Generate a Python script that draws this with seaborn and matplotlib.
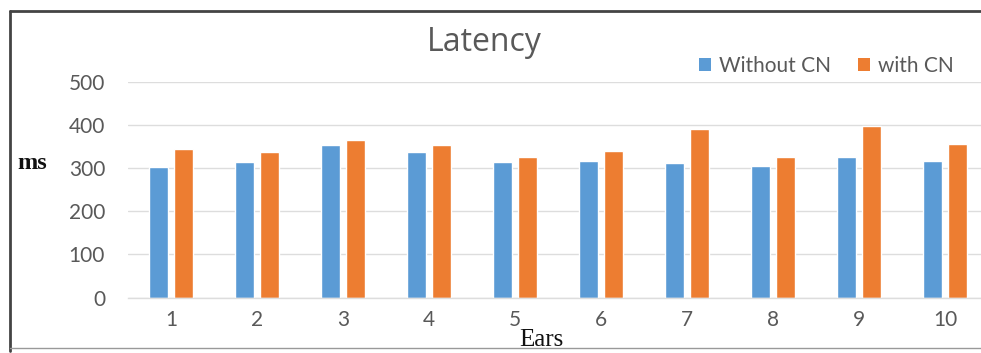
import matplotlib
matplotlib.use("Agg")
import matplotlib.pyplot as plt
from matplotlib.lines import Line2D
from matplotlib.patches import Patch
import seaborn as sns
import pandas as pd

# Latency per ear (ms)
ears = ["1", "2", "3", "4", "5", "6", "7", "8", "9", "10"]
without_cn = [303, 314, 353, 336, 314, 317, 311, 304, 325, 317]
with_cn = [344, 336, 365, 353, 325, 340, 391, 325, 398, 355]
series_names = ["Without CN", "with CN"]
y_ticks = [0, 100, 200, 300, 400, 500]

colors = ["#5B9BD5", "#ED7D31"]
text_gray = "#595959"
grid_gray = "#DDDDDD"
sans = ["Lato", "DejaVu Sans"]
serif = "Liberation Serif"

df = pd.DataFrame({
    "Ears": ears * 2,
    "ms": without_cn + with_cn,
    "series": [series_names[0]] * len(ears) + [series_names[1]] * len(ears),
})

sns.set_theme(style="white")
plt.rcParams["font.family"] = sans

fig = plt.figure(figsize=(9.81, 3.53), dpi=100)
fig.patch.set_linewidth(0)
ax = fig.add_axes([0.1305, 0.157, 0.877, 0.612])

sns.barplot(data=df, x="Ears", y="ms", hue="series", order=ears,
            hue_order=series_names, palette=colors, width=0.58, gap=0.24,
            saturation=1, errorbar=None, ax=ax, legend=False)

ax.set_ylim(0, 500)
ax.set_yticks(y_ticks)
ax.set_yticklabels([str(v) for v in y_ticks])
ax.yaxis.grid(True, color=grid_gray, linewidth=1.0)
ax.xaxis.grid(False)
ax.set_axisbelow(True)
for side in ["top", "right", "left"]:
    ax.spines[side].set_visible(False)
ax.spines["bottom"].set_color(grid_gray)
ax.spines["bottom"].set_linewidth(1.0)
ax.tick_params(axis="both", length=0, labelsize=15, labelcolor=text_gray)
ax.tick_params(axis="y", pad=16.5)
ax.tick_params(axis="x", pad=9)

ax.set_xlabel("")
ax.set_ylabel("")
fig.text(0.018, 0.538, "ms", family=serif, fontsize=17.5, fontweight="bold",
         color="#111111", ha="left", va="center")
fig.text(0.552, 0.037, "Ears", family=serif, fontsize=18, color="#111111",
         ha="center", va="center")

fig.text(0.494, 0.879, "Latency", fontsize=23, color=text_gray,
         family=["Open Sans", "DejaVu Sans"],
         ha="center", va="center")

handles = [Patch(facecolor=c, edgecolor="none") for c in colors]
fig.legend(handles, series_names, loc="center left",
           bbox_to_anchor=(0.713, 0.813), ncol=2, frameon=False,
           fontsize=15, labelcolor=text_gray, handlelength=0.55,
           handleheight=0.55, handletextpad=0.4, columnspacing=1.3,
           borderaxespad=0, borderpad=0)

# outer frame
fig.add_artist(Line2D([0.0102, 1.05], [0.969, 0.969], transform=fig.transFigure,
                      color="#444444", linewidth=2.0))
fig.add_artist(Line2D([0.0102, 0.0102], [0.005, 0.969], transform=fig.transFigure,
                      color="#444444", linewidth=2.0))
fig.add_artist(Line2D([0.0102, 1.05], [0.013, 0.013], transform=fig.transFigure,
                      color="#999999", linewidth=1.0))

fig.savefig("out.png", dpi=100, facecolor="white")
